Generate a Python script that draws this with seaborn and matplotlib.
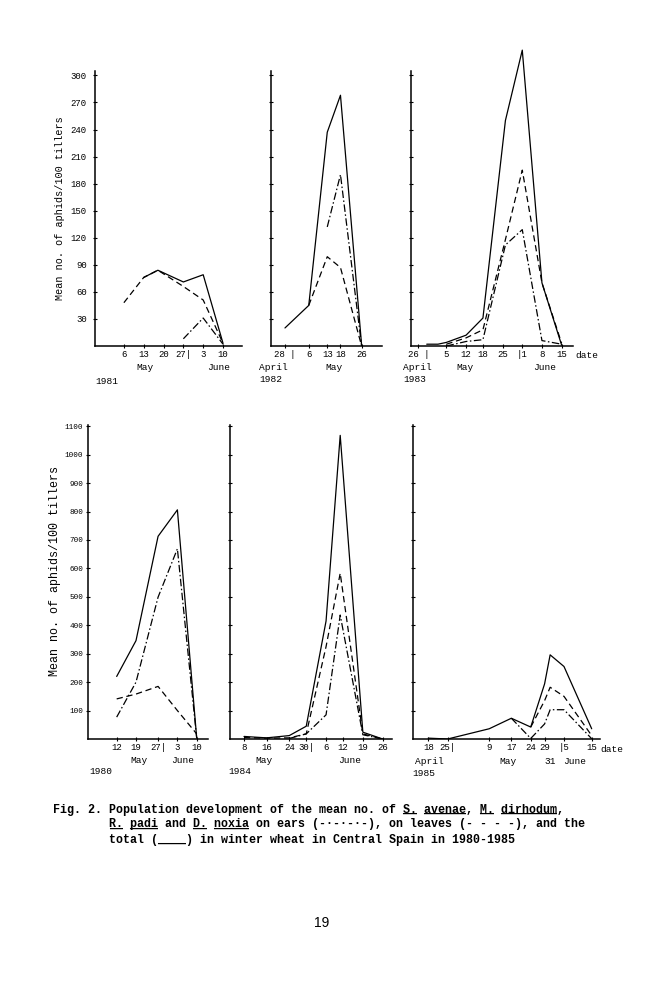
import matplotlib.pyplot as plt
import seaborn as sns

# ---- data: days counted from 1 May (negative = April) ----
# 1981
x81_total = [13, 18, 27, 34, 41]
y81_total = [76, 84, 71, 79, 3]
x81_leaves = [6, 13, 18, 27, 34, 41]
y81_leaves = [48, 76, 84, 66, 51, 3]
x81_ears = [27, 34, 41]
y81_ears = [8, 31, 2]
ticks81 = [6, 13, 20, 27, 34, 41]
labels81 = ["6", "13", "20", "27|", "3", "10"]

# 1982
x82_total = [-3, 6, 13, 18, 26]
y82_total = [20, 45, 237, 278, 1]
x82_leaves = [6, 13, 18, 26]
y82_leaves = [45, 99, 87, 0]
x82_ears = [13, 18, 26]
y82_ears = [132, 190, 0]
ticks82 = [-3, 6, 13, 18, 26]
labels82 = ["28 |", "6", "13", "18", "26"]

# 1983
x83_total = [-2, 2, 5, 12, 18, 26, 32, 39, 46]
y83_total = [2, 2, 4, 12, 31, 250, 328, 70, 1]
x83_leaves = [5, 12, 18, 26, 32, 39, 46]
y83_leaves = [2, 9, 18, 118, 195, 70, 3]
x83_ears = [5, 12, 18, 26, 32, 39, 46]
y83_ears = [0, 5, 7, 112, 129, 6, 2]
ticks83 = [-5, 5, 12, 18, 25, 32, 39, 46]
labels83 = ["26 |", "5", "12", "18", "25", "|1", "8", "15"]

# 1980
x80_total = [12, 19, 27, 34, 41]
y80_total = [220, 346, 713, 806, 3]
x80_leaves = [12, 19, 27, 34, 41]
y80_leaves = [141, 158, 185, 100, 18]
x80_ears = [12, 19, 27, 34, 41]
y80_ears = [77, 200, 499, 669, 3]
ticks80 = [12, 19, 27, 34, 41]
labels80 = ["12", "19", "27|", "3", "10"]

# 1984
x84_total = [8, 16, 24, 30, 37, 42, 50, 57]
y84_total = [9, 4, 12, 45, 415, 1068, 24, 0]
x84_leaves = [8, 16, 24, 30, 37, 42, 50, 57]
y84_leaves = [5, 3, 4, 18, 325, 583, 18, 0]
x84_ears = [24, 30, 37, 42, 50, 57]
y84_ears = [2, 18, 85, 436, 15, 0]
ticks84 = [8, 16, 24, 30, 37, 43, 50, 57]
labels84 = ["8", "16", "24", "30|", "6", "12", "19", "26"]

# 1985
x85_total = [-13, -6, 9, 17, 24, 29, 31, 36, 46]
y85_total = [3, 0, 36, 73, 42, 194, 296, 255, 36]
x85_leaves = [24, 29, 31, 36, 46]
y85_leaves = [42, 135, 182, 150, 12]
x85_ears = [17, 24, 29, 31, 36, 46]
y85_ears = [73, 2, 53, 103, 103, 1]
ticks85 = [-13, -6, 9, 17, 24, 29, 36, 46]
labels85 = ["18", "25|", "9", "17", "24", "29", "|5", "15"]

yticks_top = list(range(30, 301, 30))
yticks_bottom = list(range(100, 1101, 100))

ylabel = "Mean no. of aphids/100 tillers"
cap1 = "Fig. 2. Population development of the mean no. of S. avenae, M. dirhodum,"
cap2 = "R. padi and D. noxia on ears (-·-·-·-), on leaves (- - - -), and the"
cap3 = "total (____) in winter wheat in Central Spain in 1980-1985"

# ---- style ----
sns.set_style("ticks", {"axes.edgecolor": "black", "xtick.color": "black",
                        "ytick.color": "black", "text.color": "black"})
plt.rcParams['font.family'] = ['Liberation Mono', 'DejaVu Sans Mono']

TOTAL = '-'
LEAVES = (0, (5, 3))
EARS = (0, (6, 2, 1.2, 2))

W, H = 666, 1000
fig = plt.figure(figsize=(6.66, 10), dpi=100)


def px_axes(left, right, bottom, top):
    return fig.add_axes([left / W, 1 - bottom / H, (right - left) / W, (bottom - top) / H])


def draw(ax, x, y, ls):
    sns.lineplot(x=x, y=y, ax=ax, color='black', lw=0.9, linestyle=ls, errorbar=None)


def setup(ax, xlim, ylim, ybound, yticks, ticks, labels, ylab_size=None, ypad=2):
    ax.set_xlim(xlim)
    ax.set_ylim(ylim)
    ax.spines[['top', 'right']].set_visible(False)
    ax.spines[['left', 'bottom']].set_linewidth(1.1)
    ax.spines['left'].set_bounds(0, ybound)
    ax.set_xticks(ticks, labels, fontsize=6.5)
    ax.set_yticks(yticks)
    if ylab_size:
        ax.set_yticklabels([str(v) for v in yticks], fontsize=ylab_size)
    else:
        ax.set_yticklabels([])
    ax.tick_params(axis='x', direction='inout', length=3, width=0.8, pad=1.5)
    ax.tick_params(axis='y', direction='inout', length=3, width=0.8, pad=ypad)


def under(ax, x, text, dy_px, ha='center'):
    ax.annotate(text, xy=(x, 0), xycoords=ax.get_xaxis_transform(),
                xytext=(0, -dy_px * 0.72), textcoords='offset points',
                ha=ha, va='center', fontsize=6.8, annotation_clip=False)


def year(ax, text, dx_px, dy_px):
    ax.annotate(text, xy=(0, 0), xycoords='axes fraction',
                xytext=(dx_px * 0.72, -dy_px * 0.72), textcoords='offset points',
                ha='left', va='center', fontsize=6.8, annotation_clip=False)


# ---- top row ----
ax = px_axes(95, 242, 346, 346 - 335 * 0.902)
draw(ax, x81_leaves, y81_leaves, LEAVES)
draw(ax, x81_ears, y81_ears, EARS)
draw(ax, x81_total, y81_total, TOTAL)
setup(ax, (-4.2, 47.7), (0, 335), 305, yticks_top, ticks81, labels81, 6.5, 4.3)
under(ax, 13.4, "May", 22)
under(ax, 39.5, "June", 22)
year(ax, "1981", 0, 35)

ax = px_axes(270.7, 381.7, 346, 346 - 335 * 0.902)
draw(ax, x82_leaves, y82_leaves, LEAVES)
draw(ax, x82_ears, y82_ears, EARS)
draw(ax, x82_total, y82_total, TOTAL)
setup(ax, (-8.4, 33.6), (0, 335), 305, yticks_top, ticks82, labels82)
under(ax, -7.2, "April", 22)
under(ax, 15.5, "May", 22)
year(ax, "1982", -11.7, 34)

ax = px_axes(411, 573, 346, 346 - 335 * 0.902)
draw(ax, x83_leaves, y83_leaves, LEAVES)
draw(ax, x83_ears, y83_ears, EARS)
draw(ax, x83_total, y83_total, TOTAL)
setup(ax, (-7.6, 50.05), (0, 335), 305, yticks_top, ticks83, labels83)
under(ax, 54.9, "date", 10)
under(ax, -5.3, "April", 22)
under(ax, 11.6, "May", 22)
under(ax, 40.1, "June", 22)
year(ax, "1983", -8, 34)

# ---- bottom row ----
ax = px_axes(87.7, 208.3, 739, 739 - 1105 * 0.2843)
draw(ax, x80_leaves, y80_leaves, LEAVES)
draw(ax, x80_ears, y80_ears, EARS)
draw(ax, x80_total, y80_total, TOTAL)
setup(ax, (1.5, 45.2), (0, 1105), 1105, yticks_bottom, ticks80, labels80, 5.5, 1.7)
under(ax, 20.1, "May", 21.5)
under(ax, 36.0, "June", 21.5)
year(ax, "1980", 1.3, 33)

ax = px_axes(230, 391.7, 739, 739 - 1105 * 0.2843)
draw(ax, x84_leaves, y84_leaves, LEAVES)
draw(ax, x84_ears, y84_ears, EARS)
draw(ax, x84_total, y84_total, TOTAL)
setup(ax, (3.05, 60.2), (0, 1105), 1105, yticks_bottom, ticks84, labels84)
under(ax, 15.1, "May", 21.5)
under(ax, 45.5, "June", 21.5)
year(ax, "1984", -2, 33)

ax = px_axes(413.3, 600, 739, 739 - 1105 * 0.2843)
draw(ax, x85_leaves, y85_leaves, LEAVES)
draw(ax, x85_ears, y85_ears, EARS)
draw(ax, x85_total, y85_total, TOTAL)
setup(ax, (-18.4, 49.0), (0, 1105), 1105, yticks_bottom, ticks85, labels85)
under(ax, 53.2, "date", 10.5)
under(ax, -12.7, "April", 22.5)
under(ax, 15.8, "May", 22.5)
under(ax, 31.2, "31", 22.5)
under(ax, 40.0, "June", 22.5)
year(ax, "1985", -1, 34.5)

# ---- axis titles ----
fig.text(60 / W, 1 - 208.5 / H, ylabel, rotation=90, ha='center', va='center', fontsize=7.3)
fig.text(55 / W, 1 - 571.5 / H, ylabel, rotation=90, ha='center', va='center', fontsize=8.4)


# ---- caption with typed underlines ----
def mask(line, words):
    m = [' '] * len(line)
    start = 0
    for w in words:
        i = line.index(w, start)
        m[i:i + len(w)] = '_' * len(w)
        start = i + len(w)
    return ''.join(m)


cap_style = dict(ha='left', va='baseline', fontsize=8.4, fontweight='bold')
fig.text(52.7 / W, 1 - 812.5 / H, cap1, **cap_style)
fig.text(52.7 / W, 1 - 812.5 / H, mask(cap1, ["S.", "avenae", "M.", "dirhodum"]), **cap_style)
fig.text(109.3 / W, 1 - 827.5 / H, cap2, **cap_style)
fig.text(109.3 / W, 1 - 827.5 / H, mask(cap2, ["R.", "padi", "D.", "noxia"]), **cap_style)
fig.text(109.3 / W, 1 - 842.5 / H, cap3, **cap_style)

fig.text(322 / W, 1 - 923 / H, "19", ha='center', va='center', fontsize=10,
         family=['Liberation Sans', 'DejaVu Sans'])

fig.savefig("out.png", dpi=100)
